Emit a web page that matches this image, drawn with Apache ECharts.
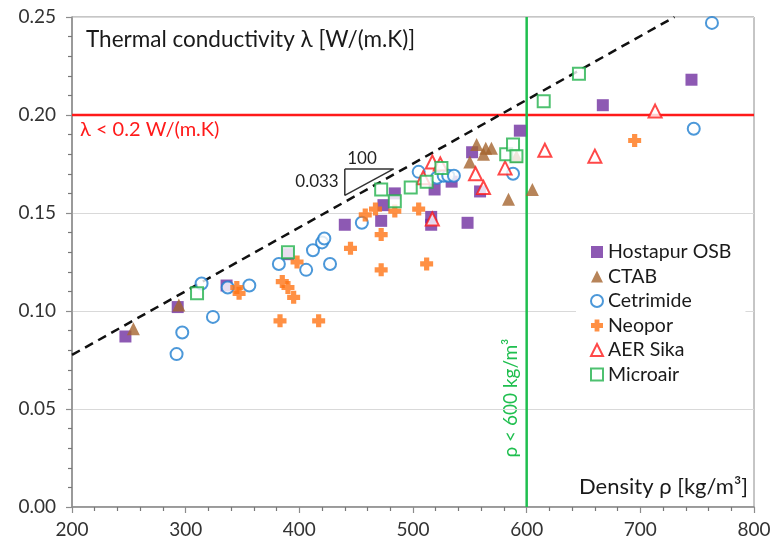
<!DOCTYPE html>
<html><head><meta charset="utf-8">
<script src="https://cdn.jsdelivr.net/npm/echarts@6/dist/echarts.min.js"></script>
<style>html,body{margin:0;padding:0;background:#fff}#c{width:782px;height:551px}</style>
</head><body><div id="c"></div>
<script>
// ---- data ----
const xTicks = [200, 300, 400, 500, 600, 700, 800];
const yTicks = [0, 0.05, 0.10, 0.15, 0.20, 0.25];
const seriesNames = ['Hostapur OSB', 'CTAB', 'Cetrimide', 'Neopor', 'AER Sika', 'Microair'];
const hostapur = [[247,0.087],[293,0.102],[336,0.113],[390,0.129],[440,0.144],[472,0.146],[474,0.154],[484,0.160],[516,0.148],[516,0.144],[519,0.162],[534,0.166],[548,0.145],[552,0.181],[559,0.161],[594,0.192],[667,0.205],[745,0.218]];
const ctab = [[254,0.091],[294,0.103],[550,0.176],[556,0.185],[562,0.180],[564,0.183],[569,0.183],[584,0.157],[591,0.179],[605,0.162]];
const cetrimide = [[292,0.078],[297,0.089],[314,0.114],[324,0.097],[337,0.112],[356,0.113],[382,0.124],[406,0.121],[412,0.131],[420,0.135],[422,0.137],[427,0.124],[455,0.145],[505,0.171],[521,0.168],[527,0.169],[531,0.169],[536,0.169],[588,0.170],[747,0.193],[763,0.247]];
const neopor = [[345,0.112],[347,0.109],[383,0.095],[385,0.115],[390,0.112],[395,0.107],[398,0.125],[417,0.095],[445,0.132],[458,0.149],[467,0.152],[472,0.139],[472,0.121],[484,0.151],[505,0.152],[512,0.124],[695,0.187]];
const aerSika = [[509,0.168],[517,0.176],[517,0.147],[524,0.175],[555,0.170],[562,0.163],[581,0.173],[616,0.182],[660,0.179],[713,0.202]];
const microair = [[310,0.109],[390,0.130],[472,0.162],[484,0.156],[498,0.163],[512,0.166],[525,0.173],[582,0.180],[588,0.185],[591,0.179],[615,0.207],[646,0.221]];
const trendLine = [[200,0.0776],[730,0.25]];
const slopeTriangle = [[440,0.1725],[483,0.1725],[440,0.159],[440,0.1725]];
const lambdaLimit = 0.2;
const densityLimit = 600;

// ---- chart ----
const FONT = 'Lato';
const plusPath = 'path://M3,0H7V3H10V7H7V10H3V7H0V3H3Z';
const chart = echarts.init(document.getElementById('c'));
const scatter = (name, data, symbol, size, itemStyle) => ({
  name, type: 'scatter', data, symbol, symbolSize: size, itemStyle, z: 5
});
chart.setOption({
  animation: false,
  textStyle: { fontFamily: FONT },
  grid: { left: 72, right: 28, top: 17, bottom: 44, show: true, borderColor: '#8c8c8c', borderWidth: 1, outerBoundsMode: 'none' },
  xAxis: {
    type: 'value', min: 200, max: 800, interval: 100,
    axisLine: { lineStyle: { color: '#8c8c8c', width: 1.5 } },
    axisTick: { show: true, length: 6, lineStyle: { color: '#8c8c8c', width: 1.2 } },
    minorTick: { show: true, splitNumber: 5, length: 4, lineStyle: { color: '#777', width: 1.2 } },
    splitLine: { show: false },
    axisLabel: { color: '#333', fontSize: 19, fontFamily: FONT, margin: 13 }
  },
  yAxis: {
    type: 'value', min: 0, max: 0.25, interval: 0.05,
    axisLine: { show: true, lineStyle: { color: '#8c8c8c', width: 1.5 } },
    axisTick: { show: true, length: 6, lineStyle: { color: '#8c8c8c', width: 1.2 } },
    minorTick: { show: true, splitNumber: 5, length: 4, lineStyle: { color: '#777', width: 1.2 } },
    splitLine: { show: true, lineStyle: { color: '#d9d9d9', width: 1 } },
    axisLabel: { color: '#333', fontSize: 19, fontFamily: FONT, margin: 16,
      formatter: v => v.toFixed(2) }
  },
  legend: {
    data: seriesNames,
    orient: 'vertical', left: 576, top: 232,
    backgroundColor: '#fff',
    padding: [10, 14, 22, 14],
    itemWidth: 12, itemHeight: 12, itemGap: 4.5,
    textStyle: { fontSize: 19.5, color: '#1a1a1a', fontFamily: FONT }
  },
  series: [
    { type: 'line', data: trendLine, symbol: 'none', silent: true, z: 3,
      lineStyle: { color: '#111', width: 2.5, type: [9, 6] } },
    { type: 'line', data: slopeTriangle, symbol: 'none', silent: true, z: 3,
      lineStyle: { color: '#333', width: 1.5 } },
    { type: 'line', data: [[200, lambdaLimit], [800, lambdaLimit]], symbol: 'none', silent: true, z: 2,
      lineStyle: { color: '#ff1a1a', width: 2.5 } },
    { type: 'line', data: [[densityLimit, 0], [densityLimit, 0.25]], symbol: 'none', silent: true, z: 2,
      lineStyle: { color: '#1fbf4f', width: 2.5 } },
    scatter('Hostapur OSB', hostapur, 'rect', 12, { color: '#7030a0' }),
    scatter('CTAB', ctab, 'triangle', 13, { color: '#a5652f' }),
    scatter('Cetrimide', cetrimide, 'circle', 12, { color: '#fff', borderColor: '#1f7ed0', borderWidth: 2 }),
    scatter('Neopor', neopor, plusPath, 13, { color: '#ff7415' }),
    scatter('AER Sika', aerSika, 'triangle', 13, { color: '#fff', borderColor: '#ff1a1a', borderWidth: 2 }),
    scatter('Microair', microair, 'rect', 12, { color: '#fff', borderColor: '#22b14c', borderWidth: 2 })
  ],
  graphic: [
    { type: 'text', left: 86, top: 28, style: { text: 'Thermal conductivity λ [W/(m.K)]', font: '22.5px ' + FONT, fill: '#1a1a1a' } },
    { type: 'text', right: 34, top: 476, style: { text: 'Density ρ [kg/m³]', font: '22px ' + FONT, fill: '#1a1a1a' } },
    { type: 'text', left: 80, top: 120, style: { text: 'λ < 0.2 W/(m.K)', font: '20px ' + FONT, fill: '#ff1a1a' } },
    { type: 'text', x: 511, y: 398, rotation: Math.PI / 2, style: { text: 'ρ < 600 kg/m³', font: '19px ' + FONT, fill: '#1fbf4f', align: 'center', verticalAlign: 'middle' } },
    { type: 'text', x: 362, y: 159, style: { text: '100', font: '17px ' + FONT, fill: '#222', align: 'center', verticalAlign: 'middle' } },
    { type: 'text', x: 317, y: 182, style: { text: '0.033', font: '17px ' + FONT, fill: '#222', align: 'center', verticalAlign: 'middle' } }
  ]
});
</script></body></html>
